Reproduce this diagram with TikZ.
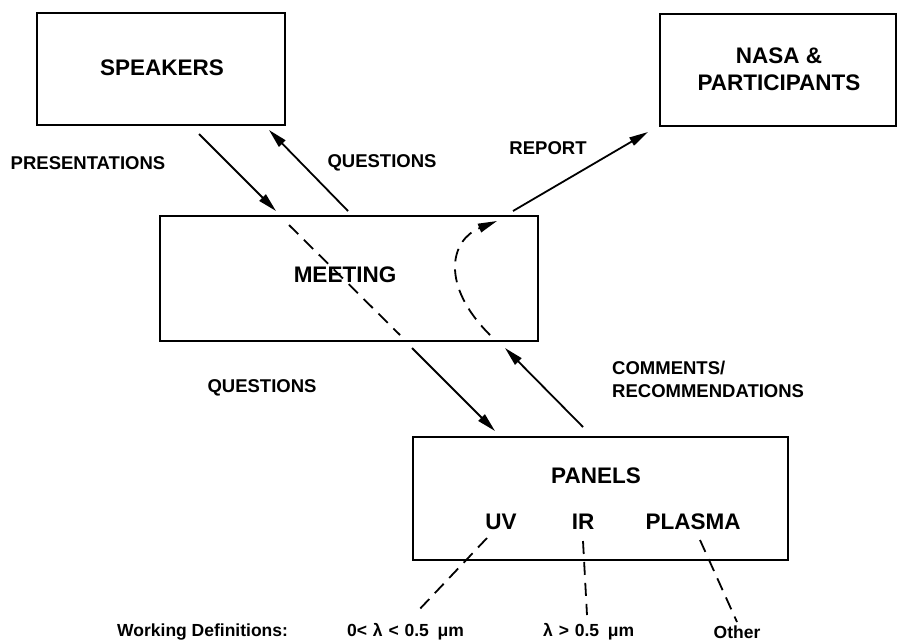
\documentclass[tikz,border=0pt]{standalone}
\usepackage{fontspec}
\setmainfont{Liberation Sans}
\usetikzlibrary{arrows.meta}
\begin{document}
\begin{tikzpicture}[x=1pt,y=-1pt,
  box/.style={draw,line width=2.2pt,inner sep=0pt},
  boxtext/.style={font=\fontsize{22.5}{26.5}\selectfont\bfseries,align=center,inner sep=0pt},
  lbl/.style={font=\fontsize{18.5}{23}\selectfont\bfseries,inner sep=0pt},
  deflbl/.style={font=\fontsize{17.5}{20}\selectfont\bfseries,inner sep=0pt},
  flow/.style={line width=1.8pt,-{Triangle[length=19pt,width=9pt]}},
  dashline/.style={line width=1.8pt,dash pattern=on 13pt off 8pt},
  dashflow/.style={dashline,-{Triangle[length=19pt,width=9pt]}}]
\useasboundingbox (0,0) rectangle (901,641);
% boxes
\node[box,minimum width=248pt,minimum height=112pt] (spk) at (161,69) {};
\node[boxtext] (spkt) at (162,68) {SPEAKERS};
\node[box,minimum width=236pt,minimum height=112pt] (nasa) at (778,70) {};
\node[boxtext] (nasat) at (779,69) {NASA \&\\PARTICIPANTS};
\node[box,minimum width=378pt,minimum height=125pt] (meet) at (349,278.5) {};
\node[boxtext] (meett) at (345,275) {MEETING};
\node[box,minimum width=375pt,minimum height=123pt] (pan) at (600.5,498.5) {};
\node[boxtext] (pant) at (596,476) {PANELS};
\node[boxtext] (uv) at (501,522) {UV};
\node[boxtext] (ir) at (583,522) {IR};
\node[boxtext] (pl) at (693,522) {PLASMA};
% labels
\node[lbl] (lpres) at (88,163) {PRESENTATIONS};
\node[lbl] (lq1) at (382,163) {QUESTIONS};
\node[lbl] (lrep) at (548,148) {REPORT};
\node[lbl] (lq2) at (262,388) {QUESTIONS};
\node[lbl,align=left,anchor=north west] (lcom) at (612,361) {COMMENTS/\\RECOMMENDATIONS};
\node[deflbl,anchor=west] (wd) at (117,632) {Working Definitions:};
\node[deflbl,anchor=west] (duv) at (347,632) {0<\,\,λ\,\,<\,\,0.5\,\,\,μm};
\node[deflbl,anchor=west] (dir) at (543,632) {λ\,\,>\,\,0.5\,\,\,μm};
\node[deflbl] (dpl) at (737,632) {Other};
% connector end points
\coordinate (a1s) at (199,134); \coordinate (a1e) at (276,211);
\coordinate (a2s) at (348,211); \coordinate (a2e) at (269,130);
\coordinate (d1s) at (289,225); \coordinate (d1e) at (400,335);
\coordinate (a3s) at (412,348); \coordinate (a3e) at (495,431);
\coordinate (a4s) at (583,427); \coordinate (a4e) at (505,348);
\coordinate (c1s) at (490,335); \coordinate (c1e) at (497,221);
\coordinate (a5s) at (513,211); \coordinate (a5e) at (648,132);
\coordinate (uvs) at (487,538); \coordinate (uve) at (416,613);
\coordinate (irs) at (583,541); \coordinate (ire) at (587,615);
\coordinate (pls) at (700,540); \coordinate (ple) at (737,622);
% connectors
\draw[flow] (a1s) -- (a1e);
\draw[flow] (a2s) -- (a2e);
\draw[dashline] (d1s) -- (d1e);
\draw[flow] (a3s) -- (a3e);
\draw[flow] (a4s) -- (a4e);
\draw[dashflow] (c1s) .. controls (440,285) and (450,240) .. (c1e);
\draw[flow] (a5s) -- (a5e);
\draw[dashline] (uvs) -- (uve);
\draw[dashline] (irs) -- (ire);
\draw[dashline] (pls) -- (ple);
\end{tikzpicture}
\end{document}
